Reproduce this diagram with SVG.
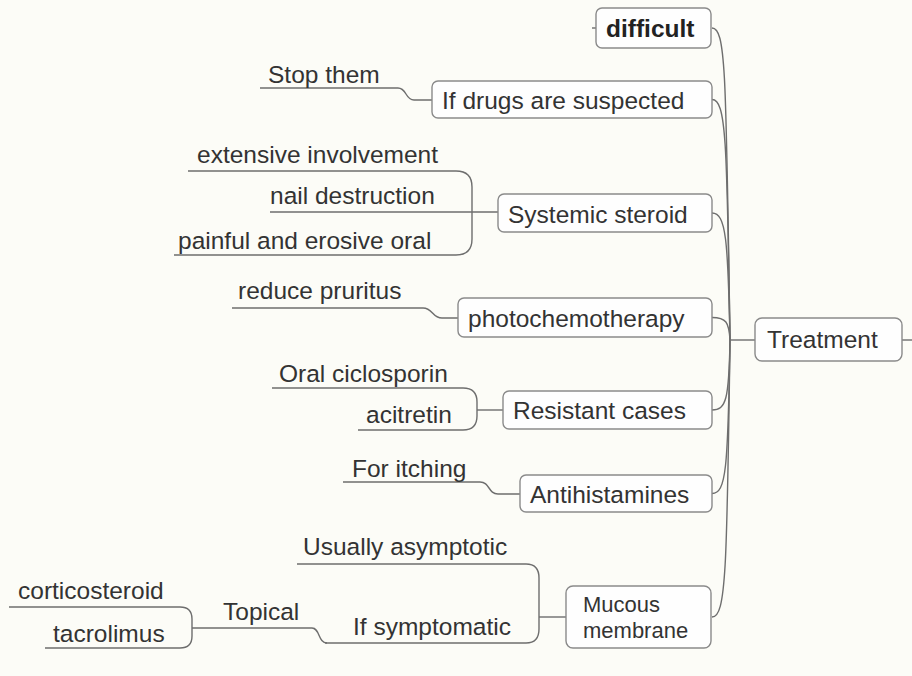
<svg xmlns="http://www.w3.org/2000/svg" width="912" height="676" viewBox="0 0 912 676">
  <style>
    .bg { fill: #fcfcf7; }
    .box { fill: #fefefe; stroke: #8a8a8a; stroke-width: 1.4; }
    .t { font-family: "Liberation Sans", Arial, sans-serif; font-size: 24.5px; fill: #333333; }
    .tb { font-weight: bold; fill: #222222; }
    .ts { font-size: 22px; }
    .ln { fill: none; stroke: #6e6e6e; stroke-width: 1.4; }
  </style>
  <rect class="bg" x="0" y="0" width="912" height="676"/>

  <!-- connectors -->
  <g id="connectors">
    <!-- root to its branches -->
    <path class="ln" d="M730,340 H755"/>
    <path class="ln" d="M902,340 H912"/>
    <path class="ln" d="M712,28 C726,28 726,75 730,340"/>
    <path class="ln" d="M712,99.5 C726,99.5 727,140 730,340"/>
    <path class="ln" d="M712,213 C726,213 728,240 730,340"/>
    <path class="ln" d="M712,317.5 C726,317.5 729,322 730,340"/>
    <path class="ln" d="M712,410 C726,410 729,400 730,340"/>
    <path class="ln" d="M712,493.5 C726,493.5 728,470 730,340"/>
    <path class="ln" d="M712,617 C726,617 727,570 730,340"/>
    <path class="ln" d="M592,28 H596"/>

    <!-- if drugs are suspected -->
    <path class="ln" d="M260,88 H398 C407,88 405,100 414,100 H432"/>

    <!-- systemic steroid -->
    <path class="ln" d="M188,171 H456 Q472,171 472,187 V239 Q472,255 456,255 H174"/>
    <path class="ln" d="M270,212 H498"/>

    <!-- photochemotherapy -->
    <path class="ln" d="M232,308 H423 C433,308 432,318 442,318 H458"/>

    <!-- resistant cases -->
    <path class="ln" d="M272,388 H463 Q477,388 477,402 V416 Q477,430 463,430 H358"/>
    <path class="ln" d="M477,410 H503"/>

    <!-- antihistamines -->
    <path class="ln" d="M343,482 H480 C490,482 488,494 498,494 H520"/>

    <!-- mucous membrane -->
    <path class="ln" d="M297,564 H526 Q539,564 539,578 V629 Q539,643 526,643 H325"/>
    <path class="ln" d="M539,617 H566"/>
    <path class="ln" d="M192,628 H312 C320,628 318,643 327,643"/>

    <!-- topical -->
    <path class="ln" d="M9,607 H180 Q192,607 192,619 V636 Q192,648 180,648 H45"/>
  </g>

  <!-- root -->
  <g id="treatment">
    <rect class="box" x="755" y="318" width="147" height="43" rx="7"/>
    <text class="t" x="767" y="348">Treatment</text>
  </g>

  <!-- main branches -->
  <g id="difficult">
    <rect class="box" x="596" y="8" width="115" height="40" rx="6"/>
    <text class="t tb" x="606" y="37">difficult</text>
  </g>
  <g id="drugs">
    <rect class="box" x="432" y="81" width="280" height="37" rx="6"/>
    <text class="t" x="442" y="109">If drugs are suspected</text>
  </g>
  <g id="systemic">
    <rect class="box" x="498" y="194" width="214" height="38" rx="6"/>
    <text class="t" x="508" y="223">Systemic steroid</text>
  </g>
  <g id="photochemotherapy">
    <rect class="box" x="458" y="298" width="254" height="39" rx="6"/>
    <text class="t" x="468" y="327">photochemotherapy</text>
  </g>
  <g id="resistant">
    <rect class="box" x="503" y="391" width="209" height="38" rx="6"/>
    <text class="t" x="513" y="419">Resistant cases</text>
  </g>
  <g id="antihistamines">
    <rect class="box" x="520" y="475" width="192" height="37" rx="6"/>
    <text class="t" x="530" y="503">Antihistamines</text>
  </g>
  <g id="mucous">
    <rect class="box" x="566" y="586" width="145" height="62" rx="7"/>
    <text class="t ts" x="583" y="612">Mucous</text>
    <text class="t ts" x="583" y="638">membrane</text>
  </g>

  <!-- leaf topics -->
  <g id="stop-them"><text class="t" x="268" y="83">Stop them</text></g>
  <g id="extensive"><text class="t" x="197" y="163">extensive involvement</text></g>
  <g id="nail"><text class="t" x="270" y="204">nail destruction</text></g>
  <g id="painful"><text class="t" x="178" y="249">painful and erosive oral</text></g>
  <g id="pruritus"><text class="t" x="238" y="299">reduce pruritus</text></g>
  <g id="ciclosporin"><text class="t" x="279" y="382">Oral ciclosporin</text></g>
  <g id="acitretin"><text class="t" x="366" y="423">acitretin</text></g>
  <g id="itching"><text class="t" x="352" y="477">For itching</text></g>
  <g id="asymptotic"><text class="t" x="303" y="555">Usually asymptotic</text></g>
  <g id="symptomatic"><text class="t" x="353" y="635">If symptomatic</text></g>
  <g id="topical"><text class="t" x="223" y="620">Topical</text></g>
  <g id="corticosteroid"><text class="t" x="18" y="599">corticosteroid</text></g>
  <g id="tacrolimus"><text class="t" x="53" y="642">tacrolimus</text></g>
</svg>
